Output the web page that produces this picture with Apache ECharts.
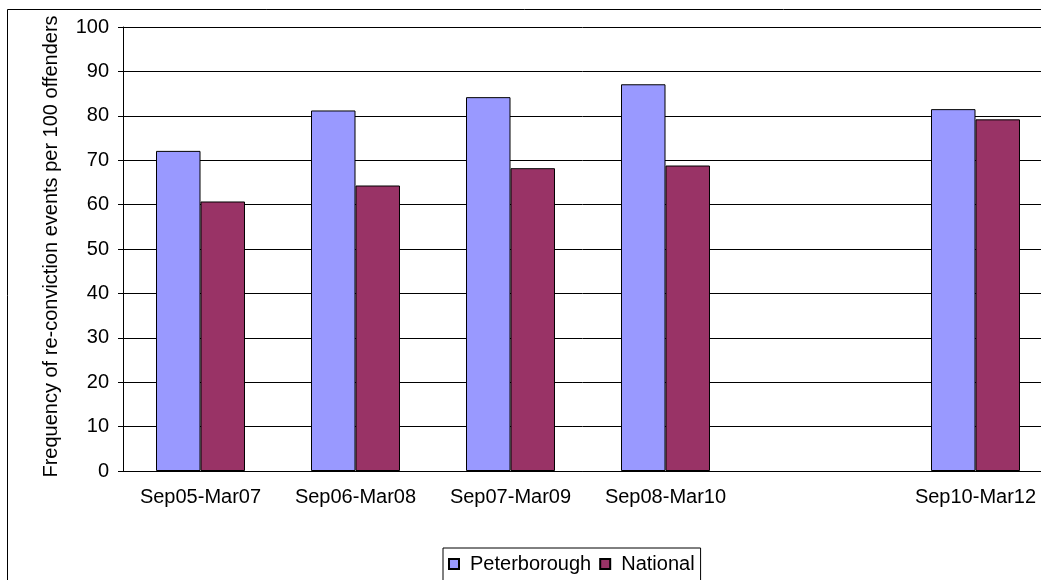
<!DOCTYPE html>
<html>
<head>
<meta charset="utf-8">
<script src="https://cdn.jsdelivr.net/npm/echarts@6/dist/echarts.min.js"></script>
<style>
  html, body { margin: 0; padding: 0; background: #fff; }
  #chart { width: 1041px; height: 580px; }
</style>
</head>
<body>
<div id="chart"></div>
<script>
// Re-conviction frequency per 100 offenders, by two-year cohort
const categories = ['Sep05-Mar07', 'Sep06-Mar08', 'Sep07-Mar09', 'Sep08-Mar10', '', 'Sep10-Mar12'];
const peterborough = [72.1, 81.2, 84.2, 87.1, null, 81.5];
const national = [60.7, 64.3, 68.2, 68.8, null, 79.2];
const yTicks = { min: 0, max: 100, interval: 10 };

const FONT = 'Liberation Sans, Arial, sans-serif';
const FS = 20;

const chart = echarts.init(document.getElementById('chart'));
chart.setOption({
  animation: false,
  backgroundColor: '#fff',
  // plot area runs a little past the right edge of the canvas
  grid: {
    left: 123, top: 27, width: 930, bottom: 109,
    containLabel: false,
    outerBoundsMode: 'none'
  },
  graphic: [{
    type: 'rect',
    shape: { x: 7.5, y: 9.5, width: 1100, height: 620 },
    style: { fill: 'none', stroke: '#000', lineWidth: 1 },
    silent: true,
    z: -1
  }],
  legend: {
    left: 443,
    top: 548,
    orient: 'horizontal',
    padding: [6, 6, 10, 5],
    itemGap: 8,
    itemWidth: 10,
    itemHeight: 10,
    icon: 'rect',
    borderColor: '#000',
    borderWidth: 1,
    textStyle: { fontFamily: FONT, fontSize: FS, color: '#000', padding: [0, 0, 0, 6] },
    data: ['Peterborough', 'National']
  },
  xAxis: {
    type: 'category',
    data: categories,
    axisLine: { lineStyle: { color: '#000', width: 1 } },
    axisTick: { show: false },
    axisLabel: { fontFamily: FONT, fontSize: FS, color: '#000', margin: 16, interval: 0 },
    splitLine: { show: false }
  },
  yAxis: {
    type: 'value',
    min: yTicks.min,
    max: yTicks.max,
    interval: yTicks.interval,
    name: 'Frequency of re-conviction events per 100 offenders',
    nameLocation: 'middle',
    nameGap: 62,
    nameTextStyle: { fontFamily: FONT, fontSize: FS, color: '#000', padding: [0, 0, 0, 5] },
    axisLine: { show: true, lineStyle: { color: '#000', width: 1 } },
    axisTick: { show: true, length: 5, lineStyle: { color: '#000' } },
    axisLabel: { fontFamily: FONT, fontSize: FS, color: '#000', margin: 14 },
    splitLine: { show: true, lineStyle: { color: '#000', width: 1 } }
  },
  series: [
    {
      name: 'Peterborough',
      type: 'bar',
      data: peterborough,
      barGap: '0%',
      barCategoryGap: '42.6%',
      itemStyle: { color: '#9999FF', borderColor: '#000', borderWidth: 1 }
    },
    {
      name: 'National',
      type: 'bar',
      data: national,
      itemStyle: { color: '#993366', borderColor: '#000', borderWidth: 1 }
    }
  ]
});
</script>
</body>
</html>
